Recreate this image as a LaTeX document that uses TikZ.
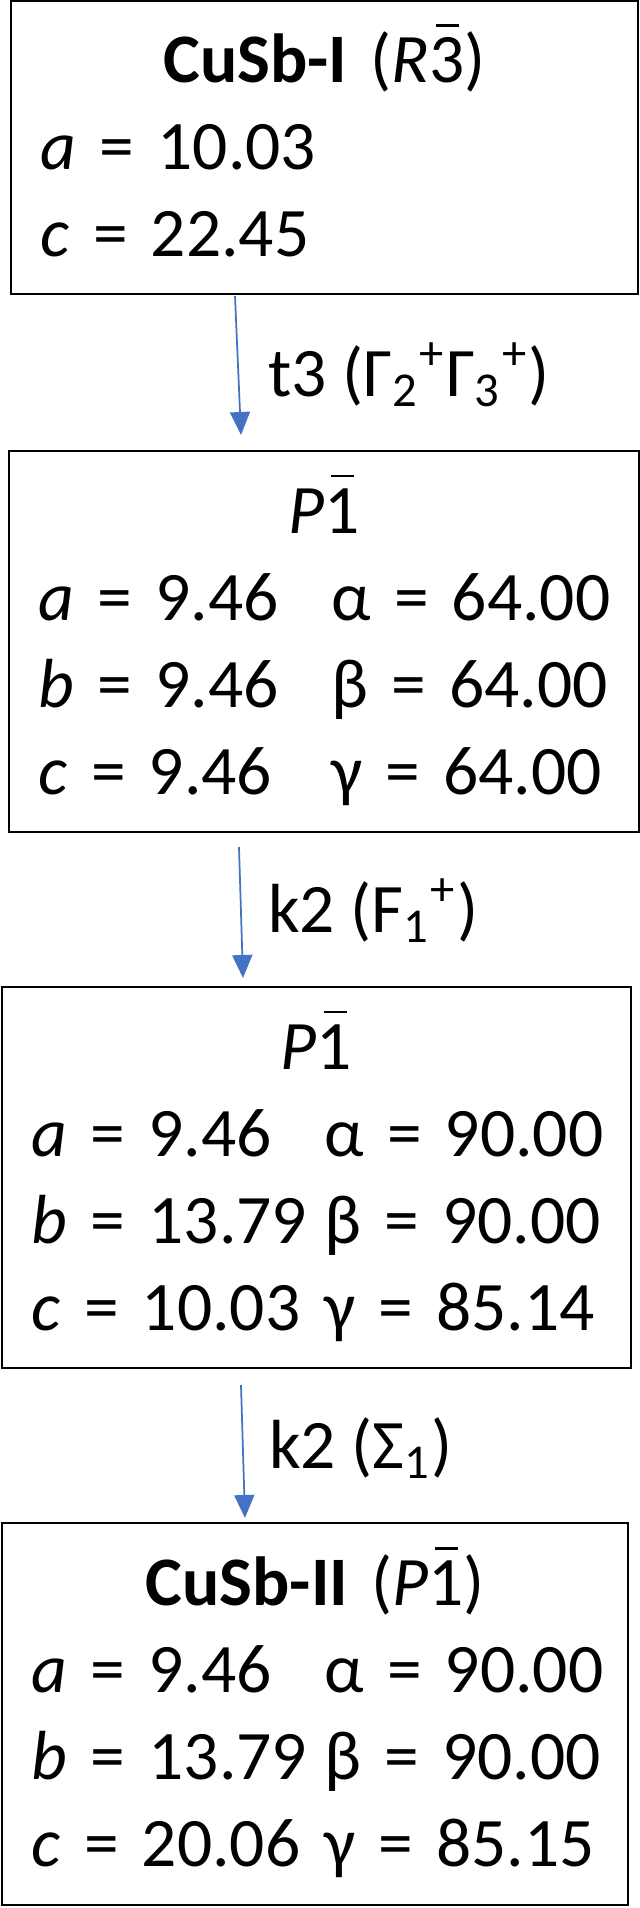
\documentclass[tikz,border=0pt]{standalone}
\usepackage{fontspec}
\setmainfont{Carlito}
\usepackage{xcolor}
\usepackage{tikz}
\definecolor{flowblue}{HTML}{4472C4}
\usetikzlibrary{arrows.meta, calc}
\newcommand{\barred}[1]{\leavevmode\rlap{\hspace{0.1em}\raisebox{0.8em}{\rule{0.33em}{0.04em}}}#1}
\newcommand{\cellstrut}{\rule[-3.7pt]{0pt}{16.2pt}}
\newcommand{\lat}[4]{\mbox{\makebox[58.5pt][l]{\cellstrut\textit{#1} = #2}#3 = #4}}

\begin{document}
\begin{tikzpicture}[x=0.2pt, y=-0.2pt,
  cell/.style={draw, line width=0.5pt, outer sep=0pt, inner xsep=6pt, inner ysep=0pt, align=left, font=\fontsize{13.9pt}{17.4pt}\selectfont},
  flow/.style={flowblue, line width=0.35pt, -{Triangle[length=4.6pt, width=4pt]}},
  lbl/.style={anchor=base west, inner sep=0pt, font=\fontsize{13.9pt}{17.4pt}\selectfont}]
\useasboundingbox (0,0) rectangle (640,1908);
% Draw the four cells
\node[cell, text width=113.4pt, minimum height=58.6pt] (cusbI) at (324.5,147.5) {\makebox[\linewidth]{\cellstrut\textbf{CuSb-I} (\textit{R}\barred{3})}\\ \mbox{\cellstrut\textit{a} = 10.03}\\ \mbox{\cellstrut\textit{c} = 22.45}};
\node[cell, text width=114pt, minimum height=76.2pt] (pone) at (324,641.5) {\makebox[\linewidth]{\cellstrut\textit{P}\barred{1}}\\ \lat{a}{9.46}{α}{64.00}\\ \lat{b}{9.46}{β}{64.00}\\ \lat{c}{9.46}{γ}{64.00}};
\node[cell, text width=113.8pt, minimum height=76.2pt] (ptwo) at (316.5,1177.5) {\makebox[\linewidth]{\cellstrut\textit{P}\barred{1}}\\ \lat{a}{9.46}{α}{90.00}\\ \lat{b}{13.79}{β}{90.00}\\ \lat{c}{10.03}{γ}{85.14}};
\node[cell, text width=113.2pt, minimum height=76.4pt] (cusbII) at (315,1714) {\makebox[\linewidth]{\cellstrut\textbf{CuSb-II} (\textit{P}\barred{1})}\\ \lat{a}{9.46}{α}{90.00}\\ \lat{b}{13.79}{β}{90.00}\\ \lat{c}{20.06}{γ}{85.15}};
% Draw transitions
\draw[flow] ($(cusbI.south west)+(224,2)$) -- ($(pone.north west)+(232,-16)$);
\draw[flow] ($(pone.south west)+(230,15)$) -- ($(ptwo.north west)+(241,-9)$);
\draw[flow] ($(ptwo.south west)+(239,17)$) -- ($(cusbII.north west)+(243,-5)$);
\node[lbl] (tthree) at (267,396) {t3 (Γ\textsubscript{2}\textsuperscript{+}Γ\textsubscript{3}\textsuperscript{+})};
\node[lbl] (ktwoF) at (267,932) {k2 (F\textsubscript{1}\textsuperscript{+})};
\node[lbl] (ktwoS) at (268,1468) {k2 (Σ\textsubscript{1})};
\end{tikzpicture}
\end{document}
